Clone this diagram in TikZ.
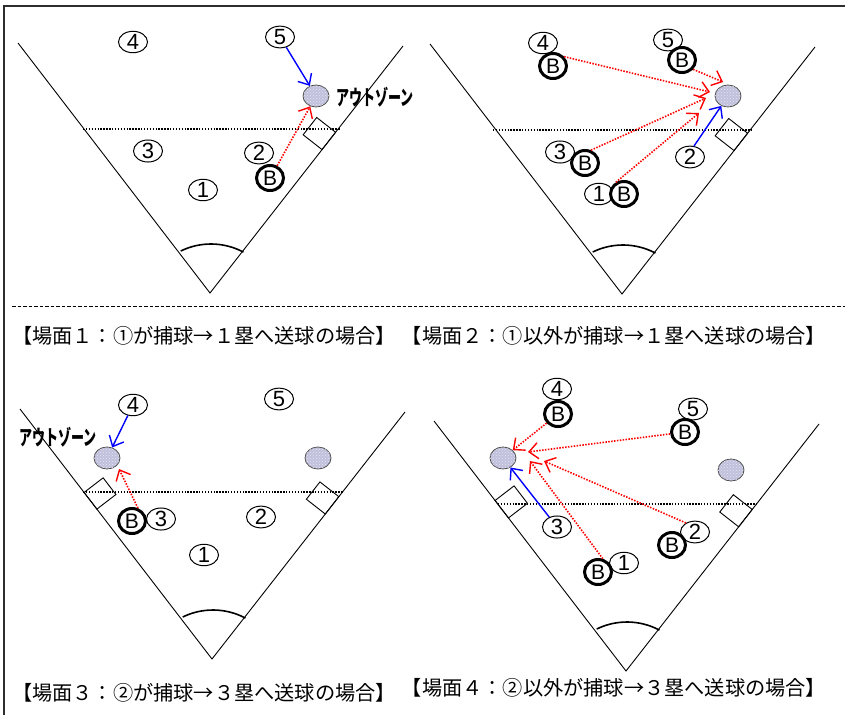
\documentclass[tikz,border=0pt]{standalone}
\usepackage{fontspec}
\usepackage{graphicx}
\setmainfont{Liberation Sans}
\newfontfamily\capfont{Noto Sans CJK JP}
\newfontfamily\zonefont{Noto Sans CJK JP}
\usetikzlibrary{calc,arrows.meta,shapes.geometric,patterns}
\definecolor{zonefill}{RGB}{192,192,220}
\definecolor{framec}{RGB}{45,45,45}
\newcommand{\basesq}[6]{%
  \coordinate (#6a) at ($(#1)!#3!(#2)$);
  \coordinate (#6b) at ($(#1)!#4!(#2)$);
  \draw[basebox] (#6a) -- (#6b) -- ($(#6b)!24pt!#5:(#1)$) -- ($(#6a)!24pt!#5:(#1)$) -- cycle;
}
\newcommand{\fieldlines}[3]{%
  \draw[foul] (#2) -- (#1) -- (#3);
  \draw[homearc] ($(#1)+(1,20)+(-116:69)$) arc[start angle=-116, end angle=-62, radius=69];
}
\begin{document}
\begin{tikzpicture}[x=1pt,y=-1pt,
  foul/.style={line width=0.9pt},
  homearc/.style={line width=1.6pt},
  limitline/.style={line width=1.6pt, dash pattern=on 1.4pt off 1.5pt},
  basebox/.style={line width=0.9pt},
  num/.style={ellipse, draw, fill=white, line width=1pt, minimum width=29pt, minimum height=20pt, inner sep=0pt, font=\fontsize{22}{22}\selectfont},
  ballc/.style={ellipse, draw, fill=white, line width=3pt, minimum width=27pt, minimum height=25pt, inner sep=0pt, font=\fontsize{21}{21}\selectfont},
  zone/.style={ellipse, draw=black!70, line width=0.8pt, fill=zonefill, minimum width=26pt, minimum height=22pt, inner sep=0pt, postaction={pattern=crosshatch dots, pattern color=white!60!zonefill}},
  zonetext/.style={inner sep=0pt, font=\zonefont\bfseries\fontsize{21}{21}\selectfont},
  captext/.style={inner sep=0pt, font=\capfont\fontsize{20.2}{22}\selectfont},
  throwR/.style={draw=red, line width=1.6pt, dash pattern=on 1.5pt off 1.4pt, -{Straight Barb[length=9pt,width=16pt,line width=1.4pt]}},
  throwB/.style={draw=blue, line width=1.4pt, -{Straight Barb[length=9pt,width=16pt,line width=1.4pt]}}
]
\useasboundingbox (0,0) rectangle (845,715);
\fill[white] (0,0) rectangle (845,715);
% frame and separator
\draw[line width=1.6pt, draw=framec] (4,715) -- (4,6) -- (845,6);
\draw[line width=1pt, dash pattern=on 3.5pt off 2pt] (12,306) -- (845,306);

% ---------- geometry ----------
\coordinate (V1) at (210,293); \coordinate (L1) at (18,43);  \coordinate (R1) at (403,46);
\coordinate (V2) at (622,294); \coordinate (L2) at (430,44); \coordinate (R2) at (815,47);
\coordinate (V3) at (212,659); \coordinate (L3) at (20,409); \coordinate (R3) at (405,412);
\coordinate (V4) at (626,671); \coordinate (L4) at (434,421); \coordinate (R4) at (819,424);

\fieldlines{V1}{L1}{R1}
\fieldlines{V2}{L2}{R2}
\fieldlines{V3}{L3}{R3}
\fieldlines{V4}{L4}{R4}

\draw[limitline] (83,129) -- (341,129);
\draw[limitline] (493,130) -- (752,130);
\draw[limitline] (83,492) -- (343,492);
\draw[limitline] (498,504) -- (757,504);

\basesq{V1}{R1}{182pt}{204pt}{-90}{ba}
\basesq{V2}{R2}{182pt}{204pt}{-90}{bb}
\basesq{V3}{L3}{189pt}{210pt}{90}{bc}
\basesq{V3}{R3}{184pt}{206pt}{-90}{bd}
\basesq{V4}{L4}{193pt}{215pt}{90}{be}
\basesq{V4}{R4}{183pt}{205pt}{-90}{bf}

% ---------- panel 1 ----------
\node[num] (a4) at (133,42) {4};
\node[num] (a5) at (280,37) {5};
\node[num] (a3) at (148,151) {3};
\node[num] (a2) at (259,153) {2};
\node[num] (a1) at (203,190) {1};
\node[ballc] (aB) at (270,178) {B};
\node[zone] (aZ) at (316,96) {};
\node[zonetext, anchor=west] (aT) at (336,97) {\scalebox{0.62}[1]{アウトゾーン}};
\draw[throwB] (a5) -- (aZ);
\draw[throwR] (aB.60) -- (aZ);

% ---------- panel 2 ----------
\node[num] (b4) at (543,43) {4};
\node[ballc] (b4B) at (553,66) {B};
\node[num] (b5) at (668,40) {5};
\node[ballc] (b5B) at (682,60) {B};
\node[num] (b3) at (560,152) {3};
\node[ballc] (b3B) at (585,163) {B};
\node[num] (b1) at (599,194) {1};
\node[ballc] (b1B) at (624,194) {B};
\node[num] (b2) at (690,157) {2};
\node[zone] (bZ) at (728,96) {};
\coordinate (bt4) at (710,92);
\coordinate (bt5) at (723,82);
\coordinate (bt3) at (706,98);
\coordinate (bt1) at (699,113);
\draw[throwR] (b4B.40) -- (bt4);
\draw[throwR] (b5B.-40) -- (bt5);
\draw[throwR] (b3B.65) -- (bt3);
\draw[throwR] (b1B.125) -- (bt1);
\draw[throwB] (b2.70) -- (bZ);

% ---------- panel 3 ----------
\node[num] (c4) at (133,405) {4};
\node[num] (c5) at (279,399) {5};
\node[num] (c3) at (161,519) {3};
\node[ballc] (cB) at (132,521) {B};
\node[num] (c2) at (261,517) {2};
\node[num] (c1) at (204,555) {1};
\node[zone] (cZ) at (107,458) {};
\node[zone] (cZ2) at (318,458) {};
\node[zonetext, anchor=west] (cT) at (19,437) {\scalebox{0.62}[1]{アウトゾーン}};
\coordinate (ct) at (119,469);
\draw[throwB] (c4) -- (cZ);
\draw[throwR] (cB.65) -- (ct);

% ---------- panel 4 ----------
\node[num] (d4) at (557,389) {4};
\node[ballc] (d4B) at (558,414) {B};
\node[num] (d5) at (693,409) {5};
\node[ballc] (d5B) at (685,432) {B};
\node[num] (d3) at (557,527) {3};
\node[num] (d2) at (695,532) {2};
\node[ballc] (d2B) at (672,545) {B};
\node[num] (d1) at (624,563) {1};
\node[ballc] (d1B) at (598,572) {B};
\node[zone] (dZ) at (503,458) {};
\node[zone] (dZ2) at (731,470) {};
\coordinate (dt5) at (528,452);
\coordinate (dt2) at (544,461);
\coordinate (dt1) at (530,461);
\draw[throwR] (d4B) -- (dZ);
\draw[throwR] (d5B) -- (dt5);
\draw[throwR] (d2.135) -- (dt2);
\draw[throwR] (d1B.70) -- (dt1);
\draw[throwB] (d3) -- (dZ);

% ---------- captions ----------
\node[captext] (cap1) at (204,336) {【場面１：①が捕球→１塁へ送球の場合】};
\node[captext] (cap2) at (614,336) {【場面２：①以外が捕球→１塁へ送球の場合】};
\node[captext] (cap3) at (204,693) {【場面３：②が捕球→３塁へ送球の場合】};
\node[captext] (cap4) at (614,688) {【場面４：②以外が捕球→３塁へ送球の場合】};
\end{tikzpicture}
\end{document}
